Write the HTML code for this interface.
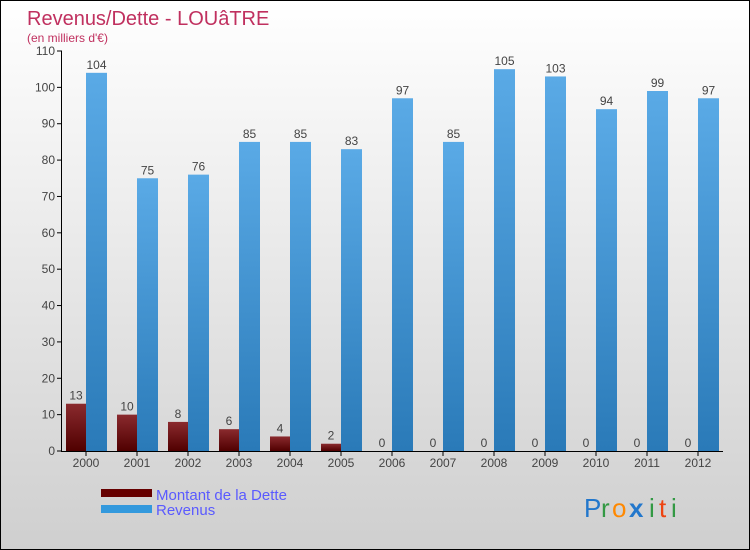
<!DOCTYPE html>
<html><head><meta charset="utf-8"><style>
body{margin:0}
#c{width:750px;height:550px;position:relative;overflow:hidden;box-sizing:border-box;border:1px solid #000;background:linear-gradient(#ffffff,#cfcfcf);font-family:"Liberation Sans",sans-serif}
text{font-family:"Liberation Sans",sans-serif}
</style></head><body>
<div id="c">
<svg id="s" width="750" height="550">
<defs>
<linearGradient id="gd" x1="0" y1="0" x2="0" y2="1"><stop offset="0" stop-color="#8a2a2e"/><stop offset="1" stop-color="#500000"/></linearGradient>
<linearGradient id="gr" x1="0" y1="0" x2="0" y2="1"><stop offset="0" stop-color="#5aaae6"/><stop offset="1" stop-color="#2a7ab8"/></linearGradient>
</defs>
<text x="26" y="24" font-size="20" fill="#c0305f">Revenus/Dette - LOUâTRE</text>
<text x="26" y="41" font-size="12" fill="#c0305f">(en milliers d'€)</text>
<g id="g"></g>
<rect x="100" y="488" width="51" height="8" fill="#660000"/>
<text x="155" y="499" font-size="15" fill="#5a5aff">Montant de la Dette</text>
<rect x="100" y="504" width="51" height="8" fill="#3399dd"/>
<text x="155" y="514" font-size="15" fill="#5a5aff">Revenus</text>
<g font-size="26">
<text x="583" y="516" fill="#2277cc">P</text><text x="600" y="516" fill="#339944">r</text><text x="611" y="516" fill="#ff8800">o</text><text x="628" y="516" fill="#2277cc" font-weight="bold">x</text><text x="648" y="516" fill="#339944">i</text><text x="658" y="516" fill="#ee4411">t</text><text x="670" y="516" fill="#339944">i</text>
</g>
</svg></div>
<script>
const years=["2000","2001","2002","2003","2004","2005","2006","2007","2008","2009","2010","2011","2012"];
const dette=[13,10,8,6,4,2,0,0,0,0,0,0,0];
const revenus=[104,75,76,85,85,83,97,85,105,103,94,99,97];
const yTicks=[0,10,20,30,40,50,60,70,80,90,100,110];
const NS="http://www.w3.org/2000/svg";
const g=document.getElementById('g');
const y=v=>450-v*400/110;
const x=i=>85+i*51;
function mk(t,a,txt){const e=document.createElementNS(NS,t);for(const k in a)e.setAttribute(k,a[k]);if(txt!==undefined)e.textContent=txt;g.appendChild(e);return e;}
yTicks.forEach(t=>{
 const l=mk('line',{x1:56,x2:61,y1:y(t),y2:y(t),stroke:'#000'});
 
 
 const tx=mk('text',{x:54,y:y(t)+4,'font-size':12,fill:'#444','text-anchor':'end'},t);
 
 
});
years.forEach((yr,i)=>{
 const d=mk('rect',{x:x(i)-20,y:y(dette[i]),width:20,height:450-y(dette[i]),fill:'url(#gd)'});
 
 
 const r=mk('rect',{x:x(i),y:y(revenus[i]),width:21,height:450-y(revenus[i]),fill:'url(#gr)'});
 
 
 const dl=mk('text',{x:x(i)-10,y:y(dette[i])-4,'font-size':12,fill:'#444','text-anchor':'middle'},dette[i]);
 
 
 const rl=mk('text',{x:x(i)+10.5,y:y(revenus[i])-4,'font-size':12,fill:'#444','text-anchor':'middle'},revenus[i]);
 
 
 const tk=mk('line',{x1:x(i),x2:x(i),y1:450,y2:455,stroke:'#000'});
 
 
 const xl=mk('text',{x:x(i),y:466,'font-size':12,fill:'#444','text-anchor':'middle'},yr);
 
 
});
const ya=mk('line',{x1:60.5,x2:60.5,y1:y(110),y2:450,stroke:'#000'});


const xa=mk('line',{x1:60,x2:722,y1:450.5,y2:450.5,stroke:'#000'});


</script>
</body></html>
